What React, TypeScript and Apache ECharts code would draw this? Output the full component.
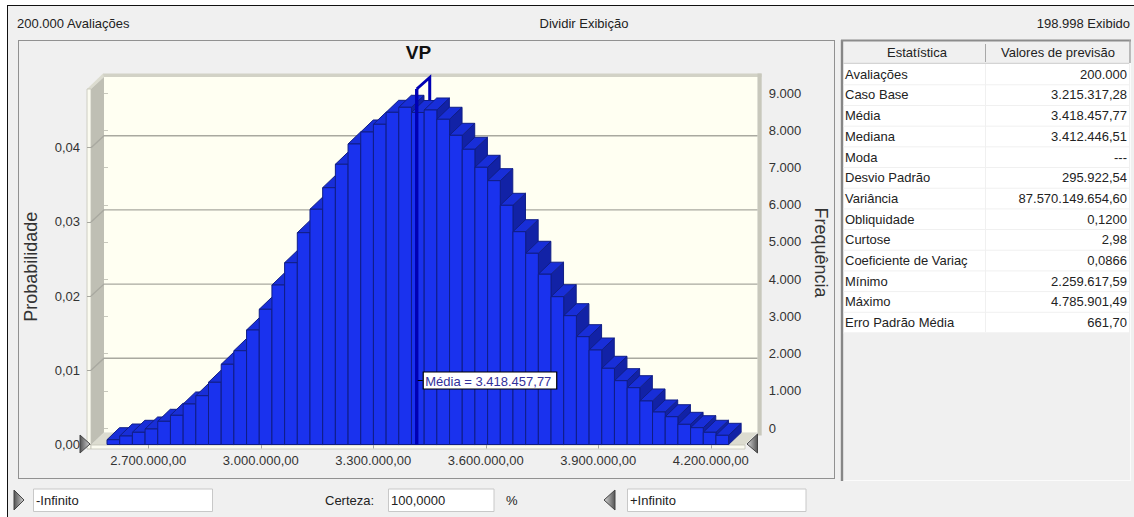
import React, { useEffect, useRef } from "react";
import * as echarts from "echarts";

const frequencies = [129, 229, 329, 418, 625, 787, 1092, 1315, 1677, 2162, 2528, 3086, 3644, 4299, 4900, 5709, 6340, 6922, 7553, 8100, 8423, 8631, 8954, 9089, 8949, 9016, 8766, 8334, 7957, 7472, 7111, 6447, 5736, 5154, 4590, 3984, 3472, 2906, 2547, 2054, 1720, 1531, 1173, 876, 749, 544, 453, 329, 248];
const firstBinStart = 2589900;
const binWidth = 33830;
const xTicks = [2700000, 3000000, 3300000, 3600000, 3900000, 4200000];
const probTicks = [0, 0.01, 0.02, 0.03, 0.04];
const gridProbs = [0.01, 0.02, 0.03, 0.04];
const freqTicks = [0, 1000, 2000, 3000, 4000, 5000, 6000, 7000, 8000, 9000];
const meanValue = 3418457.77;
const meanLabel = "Média = 3.418.457,77";
const statLabels = ["Avaliações", "Caso Base", "Média", "Mediana", "Moda", "Desvio Padrão", "Variância", "Obliquidade", "Curtose", "Coeficiente de Variaç", "Mínimo", "Máximo", "Erro Padrão Média"];
const statValues = ["200.000", "3.215.317,28", "3.418.457,77", "3.412.446,51", "---", "295.922,54", "87.570.149.654,60", "0,1200", "2,98", "0,0866", "2.259.617,59", "4.785.901,49", "661,70"];

const FONT = '"Liberation Sans", Arial, sans-serif';
const DX = 12.5;
const DY = 12;
const BACK_X = 13;
const BACK_Y = 12;

function fmtThousand(n: number, dec = 0) {
  const s = n.toFixed(dec).split(".");
  const i = s[0].replace(/\B(?=(\d{3})+(?!\d))/g, ".");
  return dec ? i + "," + s[1] : i;
}

function txt(text: string, x: number, y: number, align = "left", extra: any = {}) {
  return {
    type: "text", z: 50, silent: true,
    style: { text, x, y, align, verticalAlign: "middle", fill: "#222", font: `13px ${FONT}`, ...extra },
  };
}
function rect(x: number, y: number, width: number, height: number, fill: string, z = -5, extra: any = {}) {
  return { type: "rect", z, silent: true, shape: { x, y, width, height }, style: { fill, ...extra } };
}
function poly(points: number[][], fill: string, z = -4, extra: any = {}) {
  return { type: "polygon", z, silent: true, shape: { points }, style: { fill, ...extra } };
}
function seg(x1: number, y1: number, x2: number, y2: number, stroke: string, lineWidth = 1, z = -3, extra: any = {}) {
  return { type: "line", z, silent: true, shape: { x1, y1, x2, y2 }, style: { stroke, lineWidth, ...extra } };
}
function tri(points: number[][], rev: boolean) {
  const g = new echarts.graphic.LinearGradient(0, 0, 1, 0, rev
    ? [{ offset: 0, color: "#d8d8d8" }, { offset: 1, color: "#555" }]
    : [{ offset: 0, color: "#555" }, { offset: 1, color: "#d0d0d0" }]);
  return poly(points, g as any, 60, { stroke: "#444", lineWidth: 1 });
}

function buildOption() {
  const graphic: any[] = [
    rect(0, 0, 1134, 517, "#ffffff", -20),
    rect(7, 5, 1127, 512, "#f0f0f0", -19),
    seg(7, 5.5, 1134, 5.5, "#111", 1, -18),
    seg(7.5, 5, 7.5, 517, "#111", 1, -18),
    rect(18.5, 40.5, 816, 438, "none", -15, { stroke: "#333", lineWidth: 1, lineDash: [1, 1] }),
    // plot box: walls
    rect(104, 77, 653.5, 355.5, "#fffff2", -10),
    rect(103, 73.5, 658.5, 3.5, "#d2d2c6", -9),
    rect(757.5, 73.5, 4.2, 362, "#c8c8bc", -9),
    poly([[87, 89], [103, 73.5], [104, 77], [91, 89]], "#dcdcd0", -9),
    poly([[91, 89], [104, 77], [104, 432.5], [91, 445]], "#bfbfb4", -9),
    rect(87, 89, 4, 360, "#fbfbf0", -9, { stroke: "#c4c4b8", lineWidth: 0.8 }),
    poly([[91, 445], [104, 432.5], [757.5, 432.5], [745, 445]], "#dcdcd0", -9),
    rect(91, 445, 654, 4, "#fbfbf0", -9, { stroke: "#c4c4b8", lineWidth: 0.8 }),
    // heading
    txt("200.000 Avaliações", 17, 23),
    txt("Dividir Exibição", 584, 23, "center"),
    txt("198.998 Exibido", 1130, 23, "right"),
    txt("VP", 418.5, 52, "center", { font: `bold 19px ${FONT}`, fill: "#111" }),
    // slider handles on the plot
    tri([[80, 435], [90, 444], [80, 453]], false),
    tri([[757.5, 434], [747, 444], [757.5, 453]], true),
    // bottom bar
    tri([[14, 490], [24, 500], [14, 510]], false),
    rect(33.5, 489, 179, 22.5, "#fff", -4, { stroke: "#c8c8c8", lineWidth: 1 }),
    txt("-Infinito", 36, 500),
    txt("Certeza:", 325, 500),
    rect(388.5, 489, 105.5, 22.5, "#fff", -4, { stroke: "#c8c8c8", lineWidth: 1 }),
    txt("100,0000", 391, 500),
    txt("%", 506, 500),
    tri([[615, 490], [604, 500], [615, 510]], true),
    rect(627.5, 489, 178.5, 22.5, "#fff", -4, { stroke: "#c8c8c8", lineWidth: 1 }),
    txt("+Infinito", 630, 500),
    // stat table: dark top and left edges, light bottom and right edges
    seg(1130.5, 40, 1130.5, 480.5, "#fbfbfb", 1, -4),
    seg(841, 480.5, 1131, 480.5, "#fbfbfb", 1, -4),
    seg(842, 40, 842, 481, "#868686", 2.4, -4),
    seg(841, 40.5, 1131, 40.5, "#8c8c8c", 2, -4),
    seg(1130, 40, 1130, 63, "#a0a0a0", 1.4, -4),
    seg(843, 63.3, 1129, 63.3, "#d4d4d4", 1.2, -4),
    seg(985.5, 44, 985.5, 62, "#a8a8a8", 1),
    rect(843.5, 64, 285.5, 268.5, "#ffffff", -5),
    txt("Estatística", 917, 52.5, "center"),
    txt("Valores de previsão", 1058, 52.5, "center"),
    seg(985.5, 64, 985.5, 332, "#f0f0f0", 1),
  ];
  statLabels.forEach((label, i) => {
    const y = 74.3 + i * 20.68;
    graphic.push(txt(label, 845, y));
    graphic.push(txt(statValues[i], 1127, y, "right"));
    graphic.push(seg(843.5, y + 10.5, 1129, y + 10.5, "#f0f0f0", 1));
  });

  const labelColor = "#333";
  const series: any[] = [
    {
      // horizontal grid lines on the back wall
      type: "custom", xAxisIndex: 0, yAxisIndex: 0, z: 2, silent: true,
      data: gridProbs.map((p) => [p]),
      renderItem: (_p: any, api: any) => {
        const xMin = _p.coordSys.x;
        const xMax = xMin + _p.coordSys.width;
        const y = api.coord([meanValue, api.value(0)])[1];
        return {
          type: "polyline",
          shape: { points: [[xMin, y], [xMin + BACK_X, y - BACK_Y], [xMax + BACK_X - 0.5, y - BACK_Y]] },
          style: { stroke: "#a9a9a0", lineWidth: 1.4, fill: null },
        };
      },
    },
    {
      // part of the mean line standing on the back wall
      type: "custom", xAxisIndex: 0, yAxisIndex: 0, z: 3, silent: true,
      data: [[meanValue]],
      renderItem: (_p: any, api: any) => {
        const x = api.coord([api.value(0), 0])[0];
        const y0 = api.coord([api.value(0), 0])[1];
        return {
          type: "polyline",
          shape: { points: [[x - 1, 89], [x + BACK_X - 1, 77.5], [x + BACK_X - 1, y0 - BACK_Y]] },
          style: { stroke: "#0000b4", lineWidth: 3, fill: null },
        };
      },
    },
    {
      // 3-D histogram bars
      type: "custom", xAxisIndex: 0, yAxisIndex: 1, z: 4, silent: true,
      data: frequencies.map((f, i) => [firstBinStart + i * binWidth, firstBinStart + (i + 1) * binWidth, f]),
      renderItem: (_p: any, api: any) => {
        const a = api.coord([api.value(0), api.value(2)]);
        const b = api.coord([api.value(1), 0]);
        const edge = "#101e86";
        return {
          type: "group",
          children: [
            { type: "polygon", shape: { points: [[b[0], a[1]], [b[0] + DX, a[1] - DY], [b[0] + DX, b[1] - DY], [b[0], b[1]]] }, style: { fill: "#1222a6", stroke: edge, lineWidth: 1 } },
            { type: "polygon", shape: { points: [[a[0], a[1]], [a[0] + DX, a[1] - DY], [b[0] + DX, a[1] - DY], [b[0], a[1]]] }, style: { fill: "#182ed8", stroke: edge, lineWidth: 1 } },
            { type: "rect", shape: { x: a[0], y: a[1], width: b[0] - a[0], height: b[1] - a[1] }, style: { fill: "#1a32ee", stroke: edge, lineWidth: 1 } },
          ],
        };
      },
    },
    {
      // mean line in front of the bars, with its label
      type: "custom", xAxisIndex: 0, yAxisIndex: 0, z: 5, silent: true,
      data: [[meanValue]],
      renderItem: (_p: any, api: any) => {
        const p = api.coord([api.value(0), 0]);
        const x = p[0] - 1;
        return {
          type: "group",
          children: [
            { type: "line", shape: { x1: x, y1: p[1], x2: x, y2: 89 }, style: { stroke: "#0000b4", lineWidth: 3.4 } },
            { type: "line", shape: { x1: x + 1, y1: 380.5, x2: x + 6, y2: 380.5 }, style: { stroke: "#000", lineWidth: 1 } },
            { type: "rect", shape: { x: x + 6.5, y: 372, width: 133.5, height: 17 }, style: { fill: "#fff", stroke: "#000", lineWidth: 1.2 } },
            { type: "text", style: { text: meanLabel, x: x + 8.5, y: 381, verticalAlign: "middle", align: "left", fill: "#33309a", font: `13px ${FONT}` } },
          ],
        };
      },
    },
  ];

  return {
    animation: false,
    backgroundColor: "transparent",
    textStyle: { fontFamily: FONT },
    graphic: { elements: graphic },
    grid: [
      { left: 91, top: 89, width: 654, height: 355.5 },
      { left: 104, top: 77, width: 653.7, height: 351 },
    ],
    xAxis: [
      {
        type: "value", gridIndex: 0, min: 2547200, max: 4291200,
        splitLine: { show: false }, axisLine: { show: false },
        axisTick: { show: true, length: 4, customValues: xTicks, lineStyle: { color: "#a8a8a0" } },
        axisLabel: { customValues: xTicks, margin: 9, fontSize: 13, color: labelColor, fontFamily: FONT, formatter: (v: number) => fmtThousand(v, 2) },
      },
      { type: "value", gridIndex: 1, min: 0, max: 1, show: false },
    ],
    yAxis: [
      {
        type: "value", gridIndex: 0, min: 0, max: 0.04791,
        splitLine: { show: false }, axisLine: { show: false },
        axisTick: { show: true, length: 4, customValues: probTicks, lineStyle: { color: "#a8a8a0" } },
        axisLabel: { customValues: probTicks, margin: 11, fontSize: 13, color: labelColor, fontFamily: FONT, formatter: (v: number) => v.toFixed(2).replace(".", ",") },
        name: "Probabilidade", nameLocation: "middle", nameGap: 51, nameRotate: 90,
        nameTextStyle: { fontSize: 18, color: labelColor, fontFamily: FONT },
      },
      { type: "value", gridIndex: 0, min: 0, max: 9582, show: false, position: "right" },
      {
        type: "value", gridIndex: 1, min: 0, max: 9435, position: "right",
        splitLine: { show: false }, axisLine: { show: false },
        axisTick: { show: true, length: 4, customValues: freqTicks, lineStyle: { color: "#c8c8bc" } },
        axisLabel: { customValues: freqTicks, margin: 11, fontSize: 13, color: labelColor, fontFamily: FONT, formatter: (v: number) => fmtThousand(v) },
        name: "Frequência", nameLocation: "middle", nameGap: 53, nameRotate: -90,
        nameTextStyle: { fontSize: 18, color: labelColor, fontFamily: FONT },
      },
    ],
    series,
  };
}

export default function App() {
  const ref = useRef<HTMLDivElement>(null);
  useEffect(() => {
    document.body.style.margin = "0";
    const chart = echarts.init(ref.current!, undefined, { renderer: "svg" });
    chart.setOption(buildOption() as any);
    return () => chart.dispose();
  }, []);
  return <div ref={ref} style={{ width: 1134, height: 517 }} />;
}
